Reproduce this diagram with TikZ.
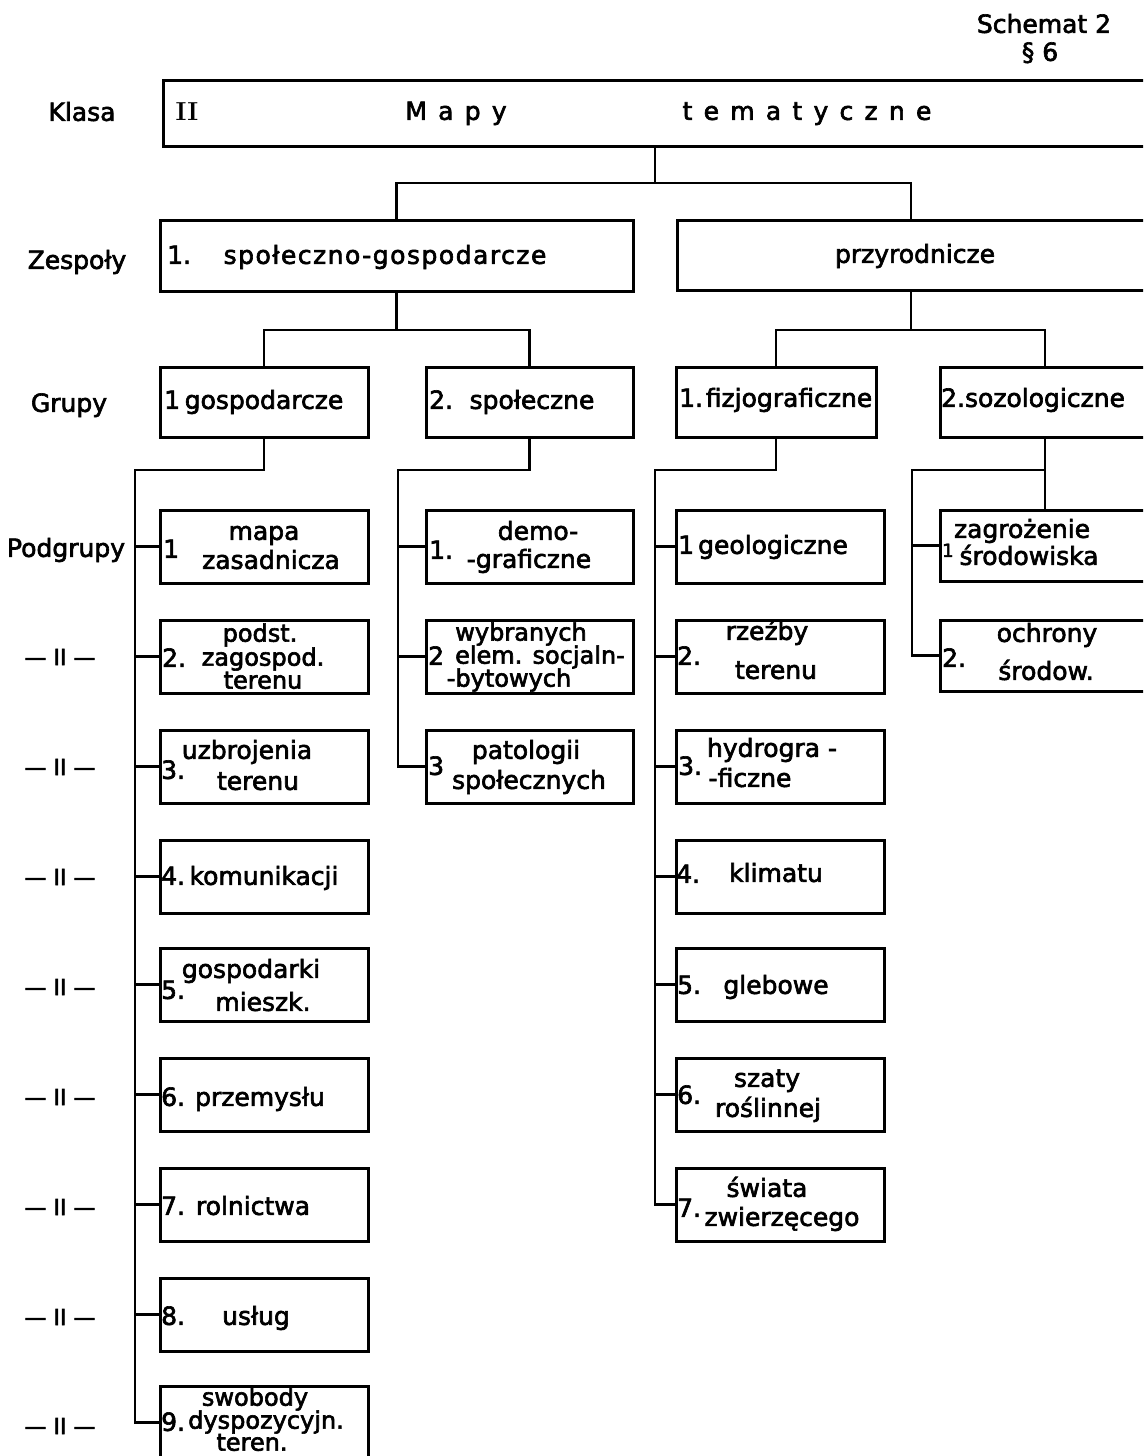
\documentclass[tikz,border=0pt]{standalone}
\usepackage{fontspec}
\newfontfamily\dv[FakeBold=2.5]{DejaVu Sans}
\newfontfamily\dvsp[LetterSpace=45,FakeBold=2.5]{DejaVu Sans}
\newfontfamily\dvw[LetterSpace=6,FakeBold=2.5]{DejaVu Sans}
\newcommand\fA{\fontsize{25}{28}\selectfont}
\newcommand\fB{\fontsize{24}{24}\selectfont}
\begin{document}
\begin{tikzpicture}[x=1pt,y=-1pt,
  box/.style={draw, line width=3pt, inner sep=0pt, outer sep=0pt, anchor=north west},
  conn/.style={line width=2.6pt},
  txt/.style={font=\dv\fA, inner sep=0pt, text height=18pt, text depth=4.3pt},
  txs/.style={font=\dv\fB, inner sep=0pt, text height=17.5pt, text depth=4.2pt},
  num/.style={txt, anchor=west},
  ditto/.style={font=\dv\fontsize{22}{22}\selectfont, inner sep=0pt}]
\useasboundingbox (0,0) rectangle (1143,1456);
\clip (0,0) rectangle (1143,1456);

% header and row labels
\node[txt] (schemat) at (1044,26) {Schemat 2};
\node[txt] (par) at (1040,54) {§ 6};
\node[txt] (lklasa) at (82,114) {Klasa};
\node[txt] (lzesp) at (77,262) {Zespoły};
\node[txt] (lgrupy) at (69,405) {Grupy};
\node[txt] (lpodgr) at (66,550) {Podgrupy};
\foreach \y [count=\i] in {657,767,877,987,1097,1207,1317,1426}
  \node[ditto] (dit\i) at (60,\y) {— II —};

% Klasa
\node[box, minimum width=984pt, minimum height=66pt] (klasa) at (163,80) {};
\node[font=\rmfamily\bfseries\fontsize{26}{26}\selectfont, inner sep=0pt] (roman) at (187,112) {II};
\node[font=\dvsp\fA, inner sep=0pt, text height=18pt, text depth=4.3pt] (mapy) at (456,113) {Mapy};
\node[font=\dvsp\fA, inner sep=0pt, text height=18pt, text depth=4.3pt] (temat) at (807,113) {tematyczne};

% Zespoly
\node[box, minimum width=473pt, minimum height=71pt] (z1) at (160,220) {};
\node[box, minimum width=468pt, minimum height=70pt] (z2) at (677,220) {};
\node[num] (z1n) at (167,257) {1.};
\node[txt, font=\dvw\fA] (z1t) at (385,257) {społeczno-gospodarcze};
\node[txt] (z2t) at (915,256) {przyrodnicze};

% Grupy
\node[box, minimum width=208pt, minimum height=70pt] (g1) at (160,367) {};
\node[box, minimum width=207pt, minimum height=70pt] (g2) at (426,367) {};
\node[box, minimum width=200pt, minimum height=70pt] (g3) at (676,367) {};
\node[box, minimum width=210pt, minimum height=70pt] (g4) at (940,367) {};
\node[num] (g1n) at (164,402) {1};
\node[txt] (g1t) at (264,402) {gospodarcze};
\node[num] (g2n) at (429,402) {2.};
\node[txt] (g2t) at (532,402) {społeczne};
\node[num] (g3n) at (679,400) {1.};
\node[txt] (g3t) at (789,400) {fizjograficzne};
\node[num] (g4n) at (941,400) {2.};
\node[txt] (g4t) at (1045,400) {sozologiczne};

% Podgrupy boxes
\foreach \t [count=\i] in {510,620,730,840,948,1058,1168,1278,1386}
  \node[box, minimum width=208pt, minimum height=73pt] (s1\i) at (160,\t) {};
\foreach \t [count=\i] in {510,620,730}
  \node[box, minimum width=207pt, minimum height=73pt] (s2\i) at (426,\t) {};
\foreach \t [count=\i] in {510,620,730,840,948,1058,1168}
  \node[box, minimum width=208pt, minimum height=73pt] (s3\i) at (676,\t) {};
\foreach \t [count=\i] in {510,620}
  \node[box, minimum width=210pt, minimum height=71pt] (s4\i) at (940,\t) {};

% connectors
\draw[conn] (klasa.south) -- ++(0,37) coordinate (kj);
\draw[conn] (z1.north) |- (kj) -| (z2.north);
\draw[conn] (z1.south) -- ++(0,39) coordinate (zj1);
\draw[conn] (g1.north) |- (zj1) -| (g2.north);
\draw[conn] (z2.south) -- ++(0,40) coordinate (zj2);
\draw[conn] (g3.north) |- (zj2) -| (g4.north);

\coordinate (tr1) at (135,470);
\draw[conn] (g1.south) |- (tr1) |- (s19.west);
\foreach \i in {1,...,8} \draw[conn] (tr1 |- s1\i.west) -- (s1\i.west);
\coordinate (tr2) at (398,470);
\draw[conn] (g2.south) |- (tr2) |- (s23.west);
\foreach \i in {1,2} \draw[conn] (tr2 |- s2\i.west) -- (s2\i.west);
\coordinate (tr3) at (655,470);
\draw[conn] (g3.south) |- (tr3) |- (s37.west);
\foreach \i in {1,...,6} \draw[conn] (tr3 |- s3\i.west) -- (s3\i.west);
\coordinate (tr4) at (912,470);
\draw[conn] (g4.south) -- (s41.north);
\draw[conn] (s41.north |- tr4) -- (tr4) |- (s42.west);
\draw[conn] (tr4 |- s41.west) -- (s41.west);

% column 1 texts
\node[num] (n11) at (163,551) {1};
\node[txt] (t11a) at (264,533) {mapa};
\node[txt] (t11b) at (271,562) {zasadnicza};
\node[num] (n12) at (162,660) {2.};
\node[txs] (t12a) at (260,635) {podst.};
\node[txs] (t12b) at (263,659) {zagospod.};
\node[txs] (t12c) at (263,682) {terenu};
\node[num] (n13) at (161,772) {3.};
\node[txt] (t13a) at (247,752) {uzbrojenia};
\node[txt] (t13b) at (258,783) {terenu};
\node[num] (n14) at (161,878) {4.};
\node[txt] (t14a) at (264,878) {komunikacji};
\node[num] (n15) at (161,992) {5.};
\node[txt] (t15a) at (251,971) {gospodarki};
\node[txt] (t15b) at (263,1004) {mieszk.};
\node[num] (n16) at (161,1099) {6.};
\node[txt] (t16a) at (260,1099) {przemysłu};
\node[num] (n17) at (161,1208) {7.};
\node[txt] (t17a) at (253,1208) {rolnictwa};
\node[num] (n18) at (161,1318) {8.};
\node[txt] (t18a) at (256,1318) {usług};
\node[num] (n19) at (161,1424) {9.};
\node[txs] (t19a) at (255,1399) {swobody};
\node[txs] (t19b) at (266,1422) {dyspozycyjn.};
\node[txs] (t19c) at (252,1444) {teren.};

% column 2 texts
\node[num] (n21) at (429,552) {1.};
\node[txt] (t21a) at (538,533) {demo-};
\node[txt] (t21b) at (529,561) {-graficzne};
\node[num] (n22) at (428,658) {2};
\node[txs] (t22a) at (521,634) {wybranych};
\node[txs] (t22b) at (540,657) {elem. socjaln-};
\node[txs] (t22c) at (509,680) {-bytowych};
\node[num] (n23) at (428,768) {3};
\node[txt] (t23a) at (526,752) {patologii};
\node[txt] (t23b) at (529,782) {społecznych};

% column 3 texts
\node[num] (n31) at (678,547) {1};
\node[txt] (t31a) at (773,547) {geologiczne};
\node[num] (n32) at (677,658) {2.};
\node[txt] (t32a) at (767,633) {rzeźby};
\node[txt] (t32b) at (776,672) {terenu};
\node[num] (n33) at (678,768) {3.};
\node[txt] (t33a) at (772,750) {hydrogra -};
\node[txt] (t33b) at (750,780) {-ficzne};
\node[num] (n34) at (676,876) {4.};
\node[txt] (t34a) at (776,875) {klimatu};
\node[num] (n35) at (677,987) {5.};
\node[txt] (t35a) at (776,987) {glebowe};
\node[num] (n36) at (677,1097) {6.};
\node[txt] (t36a) at (767,1080) {szaty};
\node[txt] (t36b) at (768,1110) {roślinnej};
\node[num] (n37) at (677,1210) {7.};
\node[txt] (t37a) at (767,1190) {świata};
\node[txt] (t37b) at (782,1219) {zwierzęcego};

% column 4 texts
\node[num, font=\dv\fontsize{18}{18}\selectfont] (n41) at (942,550) {1};
\node[txt] (t41a) at (1022,531) {zagrożenie};
\node[txt] (t41b) at (1029,558) {środowiska};
\node[num] (n42) at (942,660) {2.};
\node[txt] (t42a) at (1047,635) {ochrony};
\node[txt] (t42b) at (1046,673) {środow.};
\end{tikzpicture}
\end{document}
